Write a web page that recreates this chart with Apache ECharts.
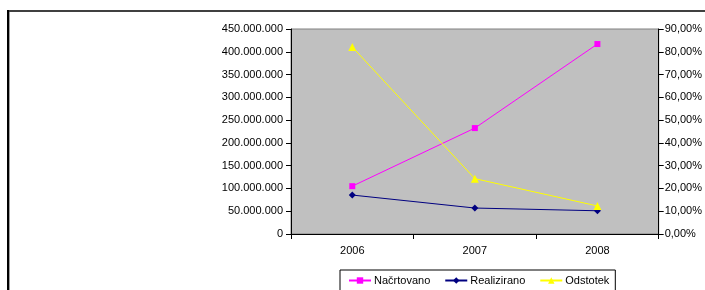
<!DOCTYPE html>
<html>
<head>
<meta charset="utf-8">
<script src="https://cdn.jsdelivr.net/npm/echarts@6/dist/echarts.min.js"></script>
<style>
  html, body { margin: 0; padding: 0; background: #fff; }
  #chart { width: 705px; height: 290px; }
</style>
</head>
<body>
<div id="chart"></div>
<script>
// podatki
var leta = ['2006', '2007', '2008'];
var nacrtovano = [105000000, 232500000, 417000000];
var realizirano = [85500000, 57000000, 51000000];
var odstotek = [0.821, 0.243, 0.123];

function pika(n) {
    return String(Math.round(n)).replace(/\B(?=(\d{3})+(?!\d))/g, '.');
}

var myChart = echarts.init(document.getElementById('chart'));
var font = { fontFamily: 'Liberation Sans, Arial, sans-serif', fontSize: 11, color: '#000' };

var option = {
    animation: false,
    textStyle: font,
    grid: {
        left: 291, right: 46, top: 29, bottom: 56,
        show: true,
        backgroundColor: '#c0c0c0',
        borderColor: '#808080',
        borderWidth: 1
    },
    graphic: [
        { type: 'line', shape: { x1: 8, y1: 11, x2: 705, y2: 11 }, style: { stroke: '#404040', lineWidth: 2 } },
        { type: 'line', shape: { x1: 8, y1: 10, x2: 8, y2: 290 }, style: { stroke: '#000', lineWidth: 2 } },
        { type: 'line', shape: { x1: 9.5, y1: 12, x2: 9.5, y2: 290 }, style: { stroke: '#a0a0a0', lineWidth: 1 } }
    ],
    legend: {
        left: 340, top: 270,
        padding: [5, 6, 8, 8],
        itemGap: 14,
        itemWidth: 22, itemHeight: 8,
        borderColor: '#000', borderWidth: 1,
        textStyle: { fontFamily: font.fontFamily, fontSize: 11, color: '#000', padding: [0, 0, 0, -2] },
        data: ['Načrtovano', 'Realizirano', 'Odstotek']
    },
    xAxis: {
        type: 'category',
        data: leta,
        boundaryGap: true,
        axisLine: { lineStyle: { color: '#000', width: 1 } },
        axisTick: { show: true, length: 5, lineStyle: { color: '#000' } },
        axisLabel: { color: '#000', fontSize: 11, margin: 11 },
        splitLine: { show: false }
    },
    yAxis: [
        {
            type: 'value',
            min: 0, max: 450000000, interval: 50000000,
            axisLine: { show: true, lineStyle: { color: '#000' } },
            axisTick: { show: true, length: 5, lineStyle: { color: '#000' } },
            axisLabel: { color: '#000', fontSize: 11, margin: 8, formatter: pika },
            splitLine: { show: false }
        },
        {
            type: 'value',
            min: 0, max: 0.9, interval: 0.1,
            position: 'right',
            axisLine: { show: true, lineStyle: { color: '#000' } },
            axisTick: { show: true, length: 5, lineStyle: { color: '#000' } },
            axisLabel: {
                color: '#000', fontSize: 11, margin: 6,
                formatter: function (v) { return (v * 100).toFixed(2).replace('.', ',') + '%'; }
            },
            splitLine: { show: false }
        }
    ],
    series: [
        {
            name: 'Načrtovano', type: 'line', data: nacrtovano,
            symbol: 'rect', symbolSize: 6,
            lineStyle: { color: '#ff00ff', width: 1 },
            itemStyle: { color: '#ff00ff' }
        },
        {
            name: 'Realizirano', type: 'line', data: realizirano,
            symbol: 'diamond', symbolSize: 7,
            lineStyle: { color: '#000080', width: 1 },
            itemStyle: { color: '#000080' }
        },
        {
            name: 'Odstotek', type: 'line', yAxisIndex: 1, data: odstotek,
            symbol: 'triangle', symbolSize: 8,
            lineStyle: { color: '#ffff00', width: 1 },
            itemStyle: { color: '#ffff00' }
        }
    ]
};

myChart.setOption(option);
</script>
</body>
</html>
